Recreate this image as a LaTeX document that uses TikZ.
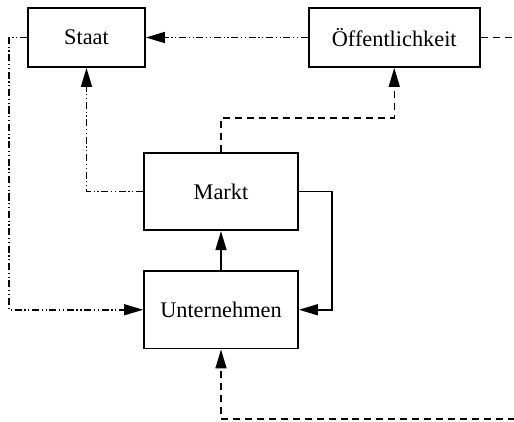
\documentclass[tikz,border=0pt]{standalone}
\usepackage{fontspec}
\setmainfont{Liberation Serif}
\usepackage{tikz}
\usetikzlibrary{arrows.meta, positioning, calc}

\begin{document}
\begin{tikzpicture}[>={Triangle[length=3.8mm, width=2.2mm]}, line width=0.85pt,
					box/.style={rectangle, draw, line width=1pt, minimum height=1.55cm, minimum width=3.08cm, font=\fontsize{12.7}{15}\selectfont},
					smallbox/.style={box, minimum height=1.18cm},
					arrow/.style={->},
					ddline/.style={dash pattern=on 4pt off 1.5pt on 0.7pt off 1.5pt on 0.7pt off 1.5pt},
					dashline/.style={dash pattern=on 4pt off 2.8pt}
				]
					\useasboundingbox (0,0) rectangle (10.28,8.42);
					\clip (0,0) rectangle (10.28,8.42);

					% Nodes
					\node[smallbox, minimum width=2.34cm] (staat) at (1.73,7.67) {Staat};
					\node[smallbox, minimum width=3.42cm, right=3.24cm of staat] (oeff) {Öffentlichkeit};
					\node[box] (markt) at (4.42,4.59) {Markt};
					\node[box, below=0.78cm of markt] (unt) {Unternehmen};
					\coordinate (loop) at (10.8,0.04);

					% Arrows
					\draw[arrow] (unt) -- (markt);
					\draw[arrow] (markt.east) -- ++(0.66,0) |- (unt.east);
					\draw[arrow, ddline] (oeff) -- (staat);
					\draw[arrow, ddline] (markt.west) -| (staat.south);
					\draw[arrow, ddline] (staat.west) -- ++(-0.36,0) |- (unt.west);
					\draw[arrow, dashline] (markt.north) -- ++(0,0.68) -| (oeff.south);
					\draw[arrow, dashline] (oeff.east) -| (loop) -| (unt.south);
				\end{tikzpicture}
\end{document}
